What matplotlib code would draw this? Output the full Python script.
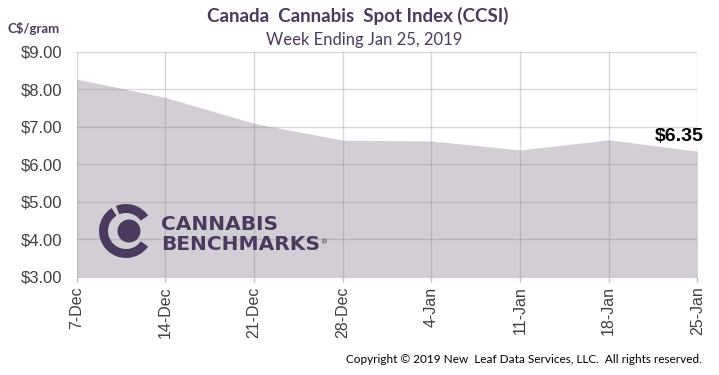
import numpy as np
import matplotlib.pyplot as plt
from matplotlib.patches import Wedge, Circle

# weekly spot index values, C$/gram
weeks = ['7-Dec', '14-Dec', '21-Dec', '28-Dec', '4-Jan', '11-Jan', '18-Jan', '25-Jan']
prices = [8.27, 7.78, 7.09, 6.64, 6.62, 6.38, 6.65, 6.35]
yticks = [3, 4, 5, 6, 7, 8, 9]

purple = '#4B3A5E'
fill_col = '#D3CED6'
tick_col = '#404040'

W, H = 719, 375
fig = plt.figure(figsize=(W / 100, H / 100), dpi=100)
ax = fig.add_axes([76.7 / W, 1 - 276.7 / H, (697.3 - 76.7) / W, (276.7 - 51.7) / H])

x = np.arange(len(weeks))
ax.fill_between(x, 3, prices, color=fill_col, lw=0, zorder=1)

ax.set_xlim(0, len(weeks) - 1)
ax.set_ylim(3, 9)
ax.set_xticks(x)
ax.set_xticklabels(weeks, rotation=90, fontsize=11.5, color=tick_col,
                   family='Liberation Sans')
ax.set_yticks(yticks)
ax.set_yticklabels(['$%.2f' % v for v in yticks], fontsize=12, color=tick_col,
                   family='Liberation Sans')
ax.tick_params(axis='y', length=0, pad=10.5)
ax.tick_params(axis='x', length=3.5, width=1, color='#BFBFBF', pad=3.5)
for s in ['top', 'right', 'left']:
    ax.spines[s].set_visible(False)
ax.spines['bottom'].set_color('#D0D0D0')
ax.grid(True, color='#808080', alpha=0.3, lw=1, zorder=2)
ax.set_axisbelow(False)

# last value label
ax.annotate('$%.2f' % prices[-1], xy=(x[-1], prices[-1]), xytext=(-18, 10),
            textcoords='offset pixels', ha='center', va='baseline',
            fontsize=14, fontweight='bold', color='black', family='Liberation Sans')

# titles
fig.text(358 / W, 1 - 21.7 / H, 'Canada  Cannabis  Spot Index (CCSI)', ha='center',
         va='baseline', fontsize=13.5, fontweight='bold', color=purple, family='Lato')
fig.text(364 / W, 1 - 45 / H, 'Week Ending Jan 25, 2019', ha='center',
         va='baseline', fontsize=12, color=purple, family='Lato')
fig.text(7 / W, 1 - 33 / H, 'C$/gram', ha='left', va='baseline',
         fontsize=9.5, fontweight='bold', color=purple, family='Lato')
fig.text(702 / W, 1 - 363 / H,
         'Copyright \u00a9 2019 New  Leaf Data Services, LLC.  All rights reserved.',
         ha='right', va='baseline', fontsize=8.5, color='black', family='Lato')

# logo watermark, in pixel units
lx0, lx1, ly0, ly1 = 90, 340, 195, 265
lax = fig.add_axes([lx0 / W, 1 - ly1 / H, (lx1 - lx0) / W, (ly1 - ly0) / H])
lax.set_xlim(lx0, lx1)
lax.set_ylim(H - ly1, H - ly0)
lax.axis('off')
cx, cy = 126, H - 231
lax.add_patch(Wedge((cx, cy), 27, 35, 112, width=9, color=purple, lw=0))
lax.add_patch(Wedge((cx, cy), 27, 122, 325, width=9, color=purple, lw=0))
lax.add_patch(Circle((cx + 3, cy), 11.5, color=purple, lw=0))
lax.text(161, H - 230, 'CANNABIS', fontsize=14.5, fontweight='bold', color=purple,
         va='baseline', ha='left', family='DejaVu Sans')
lax.text(161, H - 250, 'BENCHMARKS', fontsize=14.5, fontweight='bold', color=purple,
         va='baseline', ha='left', family='DejaVu Sans')
lax.text(321, H - 244, '\u00ae', fontsize=5, color=purple, va='baseline', ha='left')

fig.savefig('out.png', dpi=100)
